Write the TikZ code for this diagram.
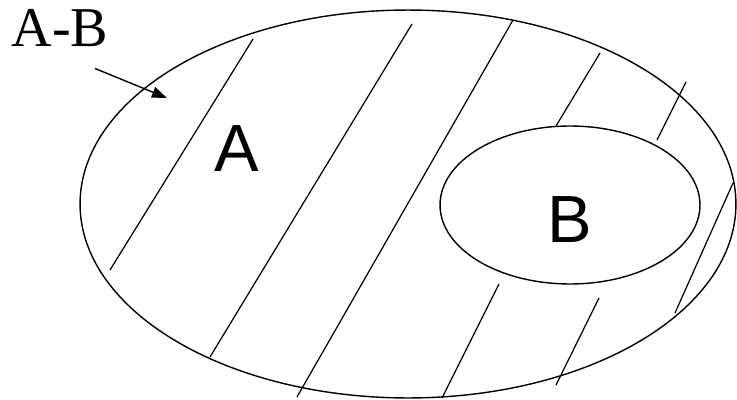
\documentclass[tikz,border=0pt]{standalone}
\usepackage{fontspec}
\setmainfont{Liberation Serif}
\setsansfont{Liberation Sans}
\usetikzlibrary{positioning, shapes.geometric, arrows.meta}

\begin{document}
\begin{tikzpicture}[
    x=0.02cm, y=-0.02cm,
    % Set styles
    setshape/.style={
      ellipse, draw=black, line width=0.8pt,
      inner sep=0pt
    },
    setname/.style={
      font=\sffamily\fontsize{38}{38}\selectfont, inner sep=0pt
    },
    diffname/.style={
      font=\rmfamily\fontsize{32}{32}\selectfont, inner sep=0pt
    },
    hatch/.style={draw=black, line width=0.7pt},
    pointer/.style={draw=black, line width=0.8pt, -{Triangle[length=0.3cm, width=0.22cm]}},
  ]
  \useasboundingbox (0,0) rectangle (737,399);

  % === Sets ===
  \node[setshape, minimum width=13.12cm, minimum height=7.76cm] (setA) at (408,204) {};
  \node[setshape, minimum width=5.2cm, minimum height=3.16cm] (setB) at (570,205) {};

  % Labels
  \node[setname] (labelA) at (236.5,149) {A};
  \node[setname] (labelB) at (570,220) {B};
  \node[diffname] (labelAB) at (60,28.5) {A-B};

  % Pointer to the difference
  \coordinate[below=0.42cm of labelAB.south, xshift=0.7cm] (ptrstart);
  \coordinate (ptrend) at (167,98);
  \draw[pointer] (ptrstart) -- (ptrend);

  % === Hatching of A-B ===
  \draw[hatch] (253,39) -- (110,270);
  \draw[hatch] (412,24) -- (210,357);
  \draw[hatch] (513,20) -- (297,397);
  \draw[hatch] (600,53) -- (556,126);
  \draw[hatch] (686,82) -- (657,140);
  \draw[hatch] (733,183) -- (675,313);
  \draw[hatch] (499,284) -- (442,398);
  \draw[hatch] (599,298) -- (556,385);

\end{tikzpicture}
\end{document}
